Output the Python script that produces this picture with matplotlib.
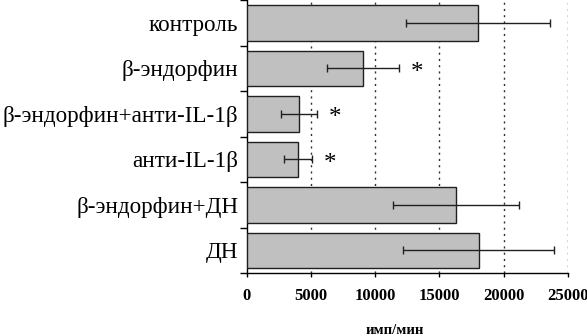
import numpy as np
import matplotlib
matplotlib.use("Agg")
import matplotlib.pyplot as plt

# data
groups = ["контроль", "β-эндорфин", "β-эндорфин+анти-IL-1β",
          "анти-IL-1β", "β-эндорфин+ДН", "ДН"]
values = [18000, 9050, 4100, 4020, 16320, 18050]
errors = [5600, 2800, 1400, 1100, 4900, 5900]
significant = [False, True, True, True, False, False]
xticks = [0, 5000, 10000, 15000, 20000, 25000]

plt.rcParams["font.family"] = ["Liberation Serif", "DejaVu Serif"]

fig = plt.figure(figsize=(5.87, 3.36), dpi=100)
ax = fig.add_axes([0.42, 0.187, 0.5476, 0.813])

y = np.arange(len(groups))
ax.barh(y, values, height=0.78, color="#c0c0c0", edgecolor="#202020",
        linewidth=1.0, zorder=3)
ax.errorbar(values, y, xerr=errors, fmt="none", ecolor="#202020",
            elinewidth=1.0, capsize=3, capthick=1.0, zorder=4)

# asterisks next to significant groups
for yi, v, e, s in zip(y, values, errors, significant):
    if s:
        ax.text(v + e + 900, yi + 0.1, "*", fontsize=18, ha="left",
                va="center", zorder=5)

ax.set_ylim(len(groups) - 0.5, -0.5)
ax.set_xlim(0, 25000)

# category labels between boundary ticks
ax.set_yticks(np.arange(len(groups) + 1) - 0.5)
ax.set_yticklabels([])
ax.set_yticks(y, minor=True)
ax.set_yticklabels(groups, minor=True, fontsize=16.7)
ax.tick_params(axis="y", which="major", direction="out", length=5, width=1)
ax.tick_params(axis="y", which="minor", length=0, pad=6)

ax.set_xticks(xticks)
ax.set_xticklabels([str(t) for t in xticks], fontsize=12, fontweight="bold")
ax.tick_params(axis="x", direction="out", length=3, width=1, pad=8)

for xv in xticks[1:]:
    ax.axvline(xv, color="#303030", linestyle=(0, (1.5, 3)), linewidth=1.0,
               zorder=1)

ax.spines["top"].set_visible(False)
ax.spines["right"].set_visible(False)
ax.spines["left"].set_linewidth(1.0)
ax.spines["bottom"].set_linewidth(1.0)

fig.text(395 / 587, 1 - 330 / 336, "имп/мин", fontsize=10.5, fontweight="bold",
         ha="center", va="center")

fig.savefig("out.png", dpi=100)
